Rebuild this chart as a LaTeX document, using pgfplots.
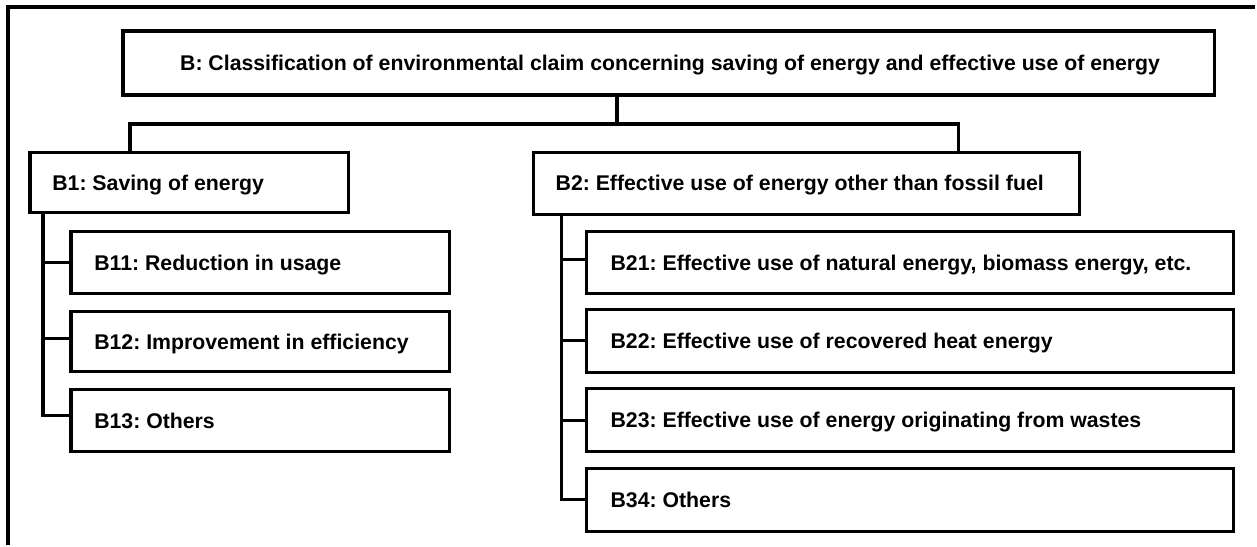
\documentclass[border=0pt]{standalone}
\usepackage{fontspec}
\setmainfont{Liberation Sans}
\usepackage{pgfplots}
\pgfplotsset{compat=1.18}
\frenchspacing

% box corners in pixels of the reference (y grows downwards)
\newcommand{\bx}[4]{\addplot[black, line width=1.7pt, line join=miter] coordinates {(#1,#2) (#3,#2) (#3,#4) (#1,#4)} -- cycle;}
\newcommand{\lbl}[3]{\node[anchor=base west, inner sep=0pt, font=\fontsize{10.65}{12}\selectfont\bfseries] at (axis cs:#1,#2) {#3};}

\begin{document}
\begin{tikzpicture}
\begin{axis}[
    width=628.5pt, height=273pt,
    scale only axis,
    xmin=0, xmax=1257,
    ymin=0, ymax=546,
    y dir=reverse,
    hide axis,
    clip=false,
]
% invisible corners, to keep the whole area in the picture
\addplot[draw=none, forget plot] coordinates {(0,0) (1257,546)};
% frame (left and top only, cut off elsewhere)
\addplot[black, line width=1.7pt, line join=miter] coordinates {(8,546) (8,7) (1257,7)};

% boxes
\bx{123}{31}{1216}{95}
\bx{30}{153}{349}{213}
\bx{534}{153}{1081}{215}
\bx{71}{232}{450}{294}
\bx{71}{312}{450}{372}
\bx{71}{390}{450}{452}
\bx{587}{232}{1235}{294}
\bx{587}{310}{1235}{373}
\bx{587}{389}{1235}{452}
\bx{587}{469}{1235}{532}

% connectors
\addplot[black, line width=1.7pt] coordinates {(618,95) (618,124)};
\addplot[black, line width=1.7pt, line join=miter] coordinates {(130,153) (130,124) (960,124) (960,153)};
\addplot[black, line width=1.7pt, line join=miter] coordinates {(43,213) (43,416) (71,416)};
\addplot[black, line width=1.7pt] coordinates {(43,263) (71,263)};
\addplot[black, line width=1.7pt] coordinates {(43,339) (71,339)};
\addplot[black, line width=1.7pt, line join=miter] coordinates {(562,215) (562,500) (587,500)};
\addplot[black, line width=1.7pt] coordinates {(562,260) (587,260)};
\addplot[black, line width=1.7pt] coordinates {(562,341) (587,341)};
\addplot[black, line width=1.7pt] coordinates {(562,421) (587,421)};

% texts
\lbl{180}{70.5}{B: Classification of environmental claim concerning saving of energy and effective use of energy}
\lbl{52}{191}{B1: Saving of energy}
\lbl{556}{191}{B2: Effective use of energy other than fossil fuel}
\lbl{94}{271}{B11: Reduction in usage}
\lbl{94}{350}{B12: Improvement in efficiency}
\lbl{94}{429}{B13: Others}
\lbl{611}{271}{B21: Effective use of natural energy, biomass energy, etc.}
\lbl{611}{349}{B22: Effective use of recovered heat energy}
\lbl{611}{428}{B23: Effective use of energy originating from wastes}
\lbl{611}{508}{B34: Others}
\end{axis}
\end{tikzpicture}
\end{document}
